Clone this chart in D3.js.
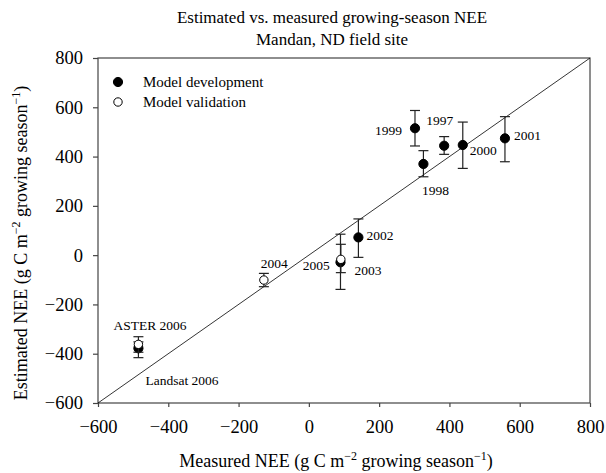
<!DOCTYPE html>
<html>
<head>
<meta charset="utf-8">
<script src="https://cdn.jsdelivr.net/npm/d3@7"></script>
<style>
  body { margin: 0; background: #fff; }
  svg text { font-family: "Liberation Serif", "Times New Roman", serif; fill: #000; }
</style>
</head>
<body>
<svg width="606" height="473"></svg>
<script>
// values
var labels    = ["1997", "1998", "1999", "2000", "2001", "2002", "2003", "Landsat 2006", "2004", "2005", "ASTER 2006"];
var groups    = ["dev", "dev", "dev", "dev", "dev", "dev", "dev", "dev", "val", "val", "val"];
var measured  = [385, 326, 302, 438, 558, 141, 90, -485, -128, 91, -485];
var estimated = [444, 370, 515, 447, 474, 72, -29, -378, -101, -17, -362];
var errLow    = [409, 318, 443, 352, 379, -9, -139, -416, -128, -71, -394];
var errHigh   = [481, 424, 587, 540, 562, 147, 85, -331, -74, 44, -352];
var ticks     = [-600, -400, -200, 0, 200, 400, 600, 800];
var legendItems = ["Model development", "Model validation"];

var svg = d3.select("svg");
// note: "top" is taken by window.top, so plot edges get their own names
var pLeft = 98, pRight = 590, pTop = 58, pBottom = 403;

var xs = d3.scaleLinear().domain([-600, 800]).range([pLeft, pRight]);
var ys = d3.scaleLinear().domain([-600, 800]).range([pBottom, pTop]);

var data = labels.map(function(d, i) {
    return {label: d, group: groups[i], x: measured[i], y: estimated[i], lo: errLow[i], hi: errHigh[i]};
});

// title
svg.append("text").attr("x", 332).attr("y", 23).attr("text-anchor", "middle")
    .style("font-size", "17px").text("Estimated vs. measured growing-season NEE");
svg.append("text").attr("x", 332).attr("y", 45).attr("text-anchor", "middle")
    .style("font-size", "17px").text("Mandan, ND field site");

// frame
svg.append("rect").attr("x", pLeft).attr("y", pTop)
    .attr("width", pRight - pLeft).attr("height", pBottom - pTop)
    .attr("fill", "none").attr("stroke", "#444").attr("stroke-width", 1.2);

var fmt = function(d) { return d < 0 ? "\u2212" + Math.abs(d) : d; };
var xAxis = d3.axisBottom(xs).tickValues(ticks).tickSize(4).tickPadding(13).tickFormat(fmt);
var yAxis = d3.axisLeft(ys).tickValues(ticks).tickSize(5).tickPadding(10).tickFormat(fmt);

var gx = svg.append("g").attr("transform", "translate(0," + pBottom + ")").call(xAxis);
var gy = svg.append("g").attr("transform", "translate(" + pLeft + ",0)").call(yAxis);
[gx, gy].forEach(function(g) {
    g.select(".domain").remove();
    g.selectAll("line").attr("stroke", "#444").attr("stroke-width", 1.2);
    g.selectAll("text").style("font-size", "18.5px")
        .style("font-family", "'Liberation Serif', serif");
});

// 1:1 line
svg.append("line")
    .attr("x1", xs(-600)).attr("y1", ys(-600))
    .attr("x2", xs(800)).attr("y2", ys(800))
    .attr("stroke", "#000").attr("stroke-width", 0.8);

// axis titles
var xt = svg.append("text").attr("x", 336).attr("y", 467).attr("text-anchor", "middle")
    .style("font-size", "18px");
xt.append("tspan").text("Measured NEE (g C m");
xt.append("tspan").attr("dy", -7).style("font-size", "12px").text("\u22122");
xt.append("tspan").attr("dy", 7).text(" growing season");
xt.append("tspan").attr("dy", -7).style("font-size", "12px").text("\u22121");
xt.append("tspan").attr("dy", 7).text(")");

var yt = svg.append("text").attr("transform", "translate(27,243) rotate(-90)")
    .attr("text-anchor", "middle").style("font-size", "18px");
yt.append("tspan").text("Estimated NEE (g C m");
yt.append("tspan").attr("dy", -7).style("font-size", "12px").text("\u22122");
yt.append("tspan").attr("dy", 7).text(" growing season");
yt.append("tspan").attr("dy", -7).style("font-size", "12px").text("\u22121");
yt.append("tspan").attr("dy", 7).text(")");

// points: development first, validation on top
var ordered = data.filter(function(d) { return d.group == "dev"; })
    .concat(data.filter(function(d) { return d.group == "val"; }));

var pts = svg.append("g").selectAll("g").data(ordered).enter().append("g");
pts.append("line")
    .attr("x1", function(d) { return xs(d.x); }).attr("x2", function(d) { return xs(d.x); })
    .attr("y1", function(d) { return ys(d.lo); }).attr("y2", function(d) { return ys(d.hi); })
    .attr("stroke", "#222").attr("stroke-width", 1.2);
pts.append("line")
    .attr("x1", function(d) { return xs(d.x) - 5; }).attr("x2", function(d) { return xs(d.x) + 5; })
    .attr("y1", function(d) { return ys(d.hi); }).attr("y2", function(d) { return ys(d.hi); })
    .attr("stroke", "#222").attr("stroke-width", 1.2);
pts.append("line")
    .attr("x1", function(d) { return xs(d.x) - 5; }).attr("x2", function(d) { return xs(d.x) + 5; })
    .attr("y1", function(d) { return ys(d.lo); }).attr("y2", function(d) { return ys(d.lo); })
    .attr("stroke", "#222").attr("stroke-width", 1.2);
pts.append("circle")
    .attr("cx", function(d) { return xs(d.x); })
    .attr("cy", function(d) { return ys(d.y); })
    .attr("r", function(d) { return d.group == "dev" ? 4.6 : 4.2; })
    .attr("fill", function(d) { return d.group == "dev" ? "#000" : "#fff"; })
    .attr("stroke", "#000").attr("stroke-width", 1);

// point labels, offsets in pixels from the point
var labelPos = {
    "1997": [9, -21, "end"], "1998": [12, 31, "middle"], "1999": [-13, 7, "end"],
    "2000": [7, 10, "start"], "2001": [9, 2, "start"], "2002": [8, 3, "start"],
    "2003": [14, 13, "start"], "2005": [-11, 11, "end"], "2004": [-3, -12, "start"],
    "ASTER 2006": [-25, -14, "start"], "Landsat 2006": [7, 37, "start"]
};
svg.append("g").selectAll("text").data(data).enter().append("text")
    .attr("x", function(d) { return xs(d.x) + labelPos[d.label][0]; })
    .attr("y", function(d) { return ys(d.y) + labelPos[d.label][1]; })
    .attr("text-anchor", function(d) { return labelPos[d.label][2]; })
    .style("font-size", "13.5px")
    .text(function(d) { return d.label; });

// legend
var lg = svg.append("g").selectAll("g").data(legendItems).enter().append("g")
    .attr("transform", function(d, i) { return "translate(118," + (82 + i * 20) + ")"; });
lg.append("circle").attr("r", function(d, i) { return i == 0 ? 4.6 : 4.2; })
    .attr("fill", function(d, i) { return i == 0 ? "#000" : "#fff"; })
    .attr("stroke", "#000").attr("stroke-width", 1);
lg.append("text").attr("x", 25).attr("y", 5).style("font-size", "15px")
    .text(function(d) { return d; });
</script>
</body>
</html>
